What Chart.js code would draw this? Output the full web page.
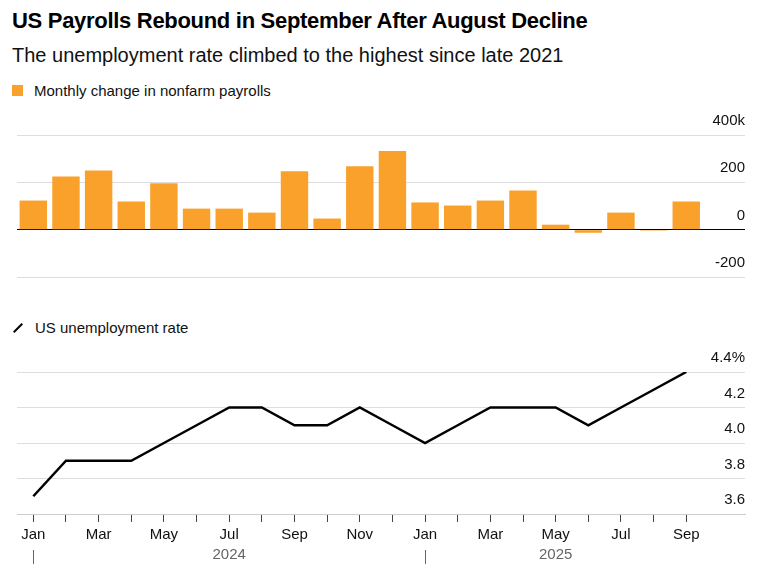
<!DOCTYPE html>
<html>
<head>
<meta charset="utf-8">
<script src="https://cdn.jsdelivr.net/npm/chart.js@4"></script>
<style>
  body { margin: 0; width: 757px; height: 572px; background: #fff; font-family: "Liberation Sans", Arial, sans-serif; position: relative; overflow: hidden; }
  .title { position: absolute; left: 12px; top: 8px; font-size: 22px; font-weight: bold; color: #000; letter-spacing: -0.3px; }
  .subtitle { position: absolute; left: 12px; top: 44px; font-size: 20px; color: #111; }
  .legend { position: absolute; left: 12px; font-size: 15px; color: #111; display: flex; align-items: center; }
  .sw { display: inline-block; width: 11px; height: 11px; background: #f9a12b; margin-right: 11px; }
  .ln { display: inline-block; width: 12px; height: 2px; background: #000; transform: rotate(-45deg); margin-right: 11px; }
  canvas { position: absolute; left: 0; }
</style>
</head>
<body>
<div class="title">US Payrolls Rebound in September After August Decline</div>
<div class="subtitle">The unemployment rate climbed to the highest since late 2021</div>
<div class="legend" style="top:82px"><span class="sw"></span>Monthly change in nonfarm payrolls</div>
<div class="legend" style="top:319px"><span class="ln"></span>US unemployment rate</div>
<div style="position:absolute;left:0;top:105px;width:757px;height:190px"><canvas id="bars"></canvas></div>
<div style="position:absolute;left:0;top:345px;width:757px;height:227px"><canvas id="line"></canvas></div>
<script>
// Jan 2024 .. Sep 2025
const months = ['Jan', 'Feb', 'Mar', 'Apr', 'May', 'Jun', 'Jul', 'Aug', 'Sep', 'Oct', 'Nov', 'Dec',
  'Jan', 'Feb', 'Mar', 'Apr', 'May', 'Jun', 'Jul', 'Aug', 'Sep'];
const payrolls = [123, 225, 250, 119, 196, 89, 89, 72, 247, 47, 268, 332,
  115, 102, 123, 166, 21, -13, 72, -4, 119];
const unemployment = [3.7, 3.9, 3.9, 3.9, 4.0, 4.1, 4.2, 4.2, 4.1, 4.1, 4.2, 4.1,
  4.0, 4.1, 4.2, 4.2, 4.2, 4.1, 4.2, 4.3, 4.4];
const payrollTicks = [-200, 0, 200, 400];
const rateTicks = [3.6, 3.8, 4.0, 4.2, 4.4];
const years = [{ index: 6, label: '2024' }, { index: 16, label: '2025' }];
const yearStarts = [0, 12];

const FONT = 'Liberation Sans';
const xRange = { min: -0.5, max: 21.8 };
const pad = { left: 17, right: 12 };

/** Year labels and separators under the month axis */
const yearPlugin = {
  id: 'years',
  afterDraw(chart) {
    const { ctx, scales: { x } } = chart;
    const y = chart.height - 17;
    ctx.save();
    ctx.font = `15px ${FONT}`;
    ctx.fillStyle = '#666';
    ctx.textAlign = 'center';
    ctx.textBaseline = 'middle';
    years.forEach((yr) => ctx.fillText(yr.label, x.getPixelForValue(yr.index), y));
    ctx.strokeStyle = '#666';
    ctx.lineWidth = 1;
    yearStarts.forEach((i) => {
      const px = Math.round(x.getPixelForValue(i)) + 0.5;
      ctx.beginPath();
      ctx.moveTo(px, y - 5);
      ctx.lineTo(px, y + 9);
      ctx.stroke();
    });
    ctx.restore();
  },
};

new Chart(document.getElementById('bars'), {
  type: 'bar',
  data: {
    datasets: [{
      data: payrolls.map((v, i) => ({ x: i, y: v })),
      backgroundColor: '#f9a12b',
      barPercentage: 0.84,
      categoryPercentage: 1,
    }],
  },
  options: {
    responsive: true,
    maintainAspectRatio: false,
    animation: false,
    layout: { padding: { top: 30, bottom: 18, ...pad } },
    plugins: { legend: { display: false }, tooltip: { enabled: false } },
    scales: {
      x: { type: 'linear', ...xRange, offset: false, display: false },
      y: {
        position: 'right',
        min: -200,
        max: 400,
        afterBuildTicks: (axis) => { axis.ticks = payrollTicks.map((v) => ({ value: v })); },
        border: { display: false },
        grid: {
          drawTicks: false,
          color: (c) => (c.tick && c.tick.value === 0 ? '#000' : '#ddd'),
        },
        ticks: {
          mirror: true,
          padding: 0,
          labelOffset: -14,
          color: '#111',
          font: { family: FONT, size: 15 },
          callback: (v) => (v === 400 ? '400k' : String(v)),
        },
      },
    },
  },
});

new Chart(document.getElementById('line'), {
  type: 'line',
  data: {
    datasets: [{
      data: unemployment.map((v, i) => ({ x: i, y: v })),
      borderColor: '#000',
      borderWidth: 2.5,
      pointRadius: 0,
      tension: 0,
    }],
  },
  options: {
    responsive: true,
    maintainAspectRatio: false,
    animation: false,
    layout: { padding: { top: 27, bottom: 24, ...pad } },
    plugins: { legend: { display: false }, tooltip: { enabled: false } },
    scales: {
      x: {
        type: 'linear',
        ...xRange,
        offset: false,
        afterBuildTicks: (axis) => { axis.ticks = months.map((m, i) => ({ value: i })); },
        border: { display: true, color: '#ccc' },
        grid: { drawOnChartArea: false, drawTicks: true, tickLength: 8, color: '#444' },
        ticks: {
          autoSkip: false,
          maxRotation: 0,
          padding: 4,
          color: '#111',
          font: { family: FONT, size: 15 },
          callback: (v) => (v % 2 === 0 ? months[v] : ''),
        },
      },
      y: {
        position: 'right',
        min: 3.6,
        max: 4.4,
        afterBuildTicks: (axis) => { axis.ticks = rateTicks.map((v) => ({ value: v })); },
        border: { display: false },
        grid: { drawTicks: false, color: '#ddd' },
        ticks: {
          mirror: true,
          padding: 0,
          labelOffset: -14,
          color: '#111',
          font: { family: FONT, size: 15 },
          callback: (v) => (v === 4.4 ? '4.4%' : v.toFixed(1)),
        },
      },
    },
  },
  plugins: [yearPlugin],
});
</script>
</body>
</html>
